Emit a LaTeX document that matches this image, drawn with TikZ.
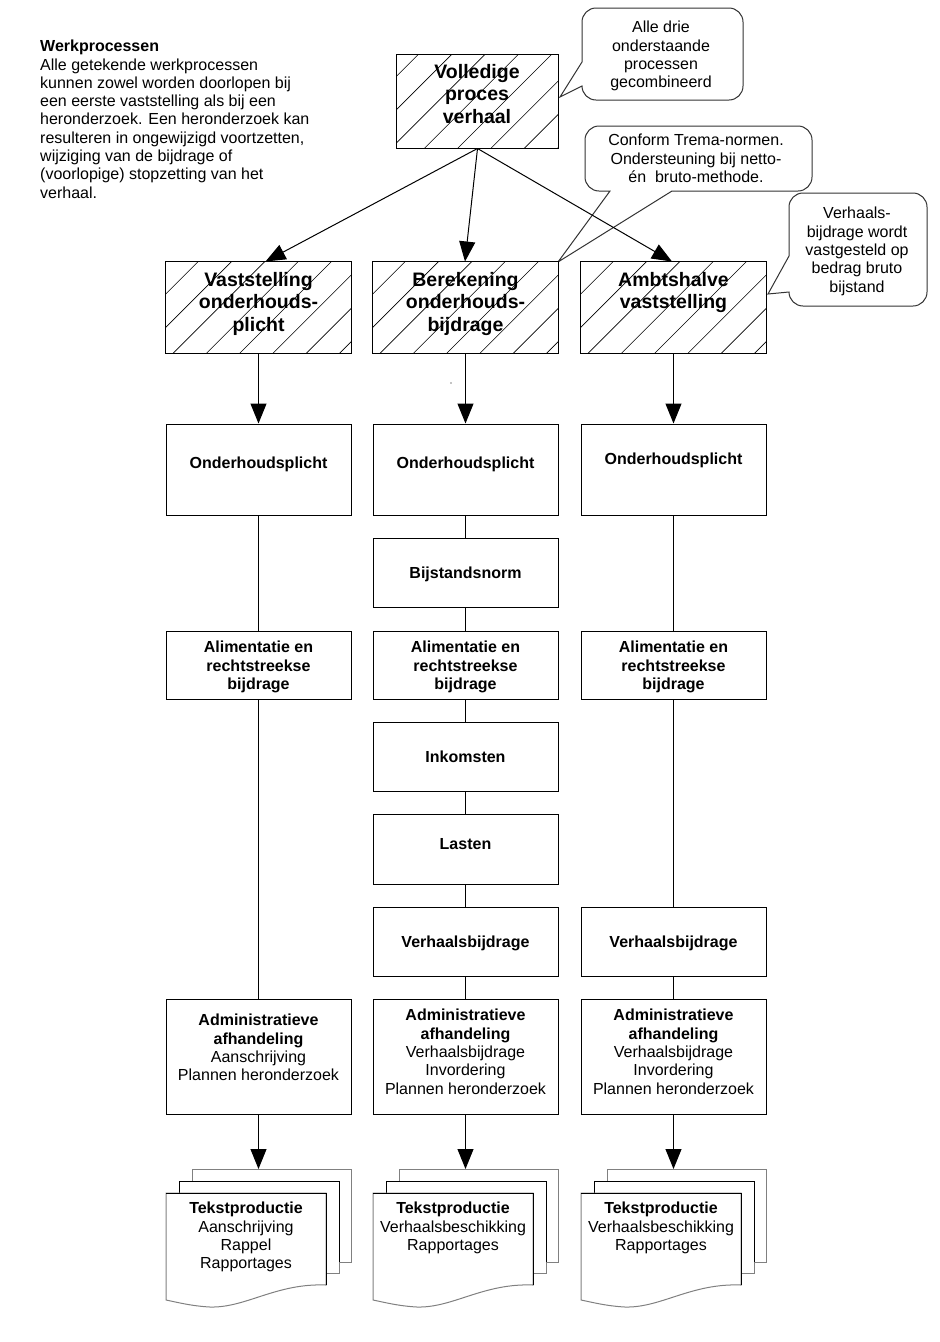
\documentclass[tikz,border=0pt]{standalone}
\usepackage{fontspec}
\setmainfont{Liberation Sans}
\usetikzlibrary{arrows.meta}
\newcommand\hatchedbox[5]{%
  \node[box, draw=none, minimum width=#4pt, minimum height=#5pt] (#1) at (#2,#3) {};
  \begin{scope}
    \clip (#1.south west) rectangle (#1.north east);
    \foreach \k in {-8,...,8}
      \draw[hatch] ([shift={({33.3*\k-93},120)}]#1.center) -- ([shift={({33.3*\k+147},-120)}]#1.center);
  \end{scope}
  \draw[boxline] (#1.south west) rectangle (#1.north east);
}
\newcommand\docstack[3]{%
  \begin{scope}[shift={(#2,0)}]
    \filldraw[fill=white, draw=black!50, line width=1pt] (26,1169) rectangle (185,1262);
    \filldraw[fill=white, draw=black!50, line width=1pt] (13,1181) rectangle (173,1273);
    \draw[line width=1pt] (13,1273) -- (13,1181) -- (173,1181) -- (173,1262);
    \filldraw[fill=white, draw=black!50, line width=1pt] (0,1193) -- (160,1193) -- (160,1285)
      .. controls (110,1283) and (80,1308) .. (44,1307)
      .. controls (25,1306) and (10,1302) .. (0,1300) -- cycle;
    \draw[line width=1pt] (0,1193) -- (160,1193) -- (160,1285);
    \coordinate (#1) at (92.5,1169);
    \node[txt, anchor=north] (#1t) at (80,1202) {#3};
  \end{scope}}
\begin{document}
\begin{tikzpicture}[x=1pt,y=-1pt,
  box/.style={draw, line width=1pt, fill=white, inner sep=0pt, minimum width=185pt},
  boxline/.style={line width=1pt},
  txt/.style={font=\fontsize{16}{18.3}\selectfont, align=center, inner sep=0pt},
  btxt/.style={font=\fontsize{16}{18.3}\selectfont\bfseries, align=center, inner sep=0pt},
  htxt/.style={font=\fontsize{19.5}{22.4}\selectfont\bfseries, align=center, inner sep=0pt},
  conn/.style={line width=1pt},
  arr/.style={line width=1pt, -{Triangle[length=20pt,width=16pt]}},
  callout/.style={draw=black!80, line width=1pt, fill=white},
  hatch/.style={line width=0.6pt}
]
\useasboundingbox (0,0) rectangle (940,1342);

% intro text
\node[txt, align=left, anchor=north west] (intro) at (40,40) {\textbf{Werkprocessen}\\Alle getekende werkprocessen\\kunnen zowel worden doorlopen bij\\een eerste vaststelling als bij een\\heronderzoek. Een heronderzoek kan\\resulteren in ongewijzigd voortzetten,\\wijziging van de bijdrage of\\(voorlopige) stopzetting van het\\verhaal.};

% callouts
\filldraw[callout] (560,97) -- (582,62) -- (582,22) .. controls (582,14.3) and (588.3,8) .. (596,8)
  -- (729,8) .. controls (736.7,8) and (743,14.3) .. (743,22)
  -- (743,86) .. controls (743,93.7) and (736.7,100) .. (729,100)
  -- (596,100) .. controls (588.3,100) and (582,93.7) .. (582,86) -- cycle;
\node[txt, anchor=north] (callA) at (661,21) {Alle drie\\onderstaande\\processen\\gecombineerd};

\filldraw[callout] (558,262) -- (610,191) -- (599,191) .. controls (591.3,191) and (585,184.7) .. (585,177)
  -- (585,140) .. controls (585,132.3) and (591.3,126) .. (599,126)
  -- (798,126) .. controls (805.7,126) and (812,132.3) .. (812,140)
  -- (812,177) .. controls (812,184.7) and (805.7,191) .. (798,191)
  -- (672,191) -- cycle;
\node[txt, anchor=north] (callB) at (696,134) {Conform Trema-normen.\\Ondersteuning bij netto-\\én\ \ bruto-methode.};

\filldraw[callout] (768,294) -- (789,256) -- (789,207) .. controls (789,199.3) and (795.3,193) .. (803,193)
  -- (913,193) .. controls (920.7,193) and (927,199.3) .. (927,207)
  -- (927,292) .. controls (927,299.7) and (920.7,306) .. (913,306)
  -- (803,306) .. controls (795.3,306) and (789,299.7) .. (789,292) -- cycle;
\node[txt, anchor=north] (callC) at (857,207) {Verhaals-\\bijdrage wordt\\vastgesteld op\\bedrag bruto\\bijstand};

% hatched boxes
\hatchedbox{top}{477.5}{101.5}{161}{93}
\node[htxt, anchor=north] (topt) at (477,64) {Volledige\\proces\\verhaal};
\hatchedbox{h1}{258.5}{307.5}{185}{91}
\hatchedbox{h2}{465.5}{307.5}{185}{91}
\hatchedbox{h3}{673.5}{307.5}{185}{91}
\node[htxt, anchor=north] (h1t) at (258.5,272) {Vaststelling\\onderhouds-\\plicht};
\node[htxt, anchor=north] (h2t) at (465.5,272) {Berekening\\onderhouds-\\bijdrage};
\node[htxt, anchor=north] (h3t) at (673.5,272) {Ambtshalve\\vaststelling};

% column boxes
\node[box, minimum height=91pt] (o1) at (258.5,469.5) {};
\node[box, minimum height=91pt] (o2) at (465.5,469.5) {};
\node[box, minimum height=91pt] (o3) at (673.5,469.5) {};
\node[btxt, anchor=north] (o1t) at (258.5,457) {Onderhoudsplicht};
\node[btxt, anchor=north] (o2t) at (465.5,457) {Onderhoudsplicht};
\node[btxt, anchor=north] (o3t) at (673.5,453) {Onderhoudsplicht};

\node[box, minimum height=69pt] (b2) at (465.5,572.5) {};
\node[btxt, anchor=north] (b2t) at (465.5,567) {Bijstandsnorm};

\node[box, minimum height=68pt] (a1) at (258.5,665) {};
\node[box, minimum height=68pt] (a2) at (465.5,665) {};
\node[box, minimum height=68pt] (a3) at (673.5,665) {};
\node[btxt, anchor=north] (a1t) at (258.5,641) {Alimentatie en\\rechtstreekse\\bijdrage};
\node[btxt, anchor=north] (a2t) at (465.5,641) {Alimentatie en\\rechtstreekse\\bijdrage};
\node[btxt, anchor=north] (a3t) at (673.5,641) {Alimentatie en\\rechtstreekse\\bijdrage};

\node[box, minimum height=69pt] (i2) at (465.5,756.5) {};
\node[btxt, anchor=north] (i2t) at (465.5,751) {Inkomsten};

\node[box, minimum height=70pt] (l2) at (465.5,849) {};
\node[btxt, anchor=north] (l2t) at (465.5,838) {Lasten};

\node[box, minimum height=69pt] (v2) at (465.5,941.5) {};
\node[box, minimum height=69pt] (v3) at (673.5,941.5) {};
\node[btxt, anchor=north] (v2t) at (465.5,936) {Verhaalsbijdrage};
\node[btxt, anchor=north] (v3t) at (673.5,936) {Verhaalsbijdrage};

\node[box, minimum height=115pt] (ad1) at (258.5,1056.5) {};
\node[box, minimum height=115pt] (ad2) at (465.5,1056.5) {};
\node[box, minimum height=115pt] (ad3) at (673.5,1056.5) {};
\node[txt, anchor=north] (ad1t) at (258.5,1014) {\textbf{Administratieve}\\\textbf{afhandeling}\\Aanschrijving\\Plannen heronderzoek};
\node[txt, anchor=north] (ad2t) at (465.5,1009) {\textbf{Administratieve}\\\textbf{afhandeling}\\Verhaalsbijdrage\\Invordering\\Plannen heronderzoek};
\node[txt, anchor=north] (ad3t) at (673.5,1009) {\textbf{Administratieve}\\\textbf{afhandeling}\\Verhaalsbijdrage\\Invordering\\Plannen heronderzoek};

% documents
\docstack{d1}{166}{\textbf{Tekstproductie}\\Aanschrijving\\Rappel\\Rapportages}
\docstack{d2}{373}{\textbf{Tekstproductie}\\Verhaalsbeschikking\\Rapportages}
\docstack{d3}{581}{\textbf{Tekstproductie}\\Verhaalsbeschikking\\Rapportages}

% connectors
\draw[arr] (top.south) -- ([xshift=7pt]h1.north);
\draw[arr] (top.south) -- ([xshift=-0.5pt]h2.north);
\draw[arr] (top.south) -- ([xshift=-1.5pt]h3.north);

\draw[arr] (h1.south) -- (o1.north);
\draw[conn] (o1.south) -- (a1.north);
\draw[conn] (a1.south) -- (ad1.north);
\draw[arr] (ad1.south) -- (d1);

\draw[arr] (h2.south) -- (o2.north);
\draw[conn] (o2.south) -- (b2.north);
\draw[conn] (b2.south) -- (a2.north);
\draw[conn] (a2.south) -- (i2.north);
\draw[conn] (i2.south) -- (l2.north);
\draw[conn] (l2.south) -- (v2.north);
\draw[conn] (v2.south) -- (ad2.north);
\draw[arr] (ad2.south) -- (d2);

\draw[arr] (h3.south) -- (o3.north);
\draw[conn] (o3.south) -- (a3.north);
\draw[conn] (a3.south) -- (v3.north);
\draw[conn] (v3.south) -- (ad3.north);
\draw[arr] (ad3.south) -- (d3);

\fill (451,383) circle (0.7pt);
\end{tikzpicture}
\end{document}
